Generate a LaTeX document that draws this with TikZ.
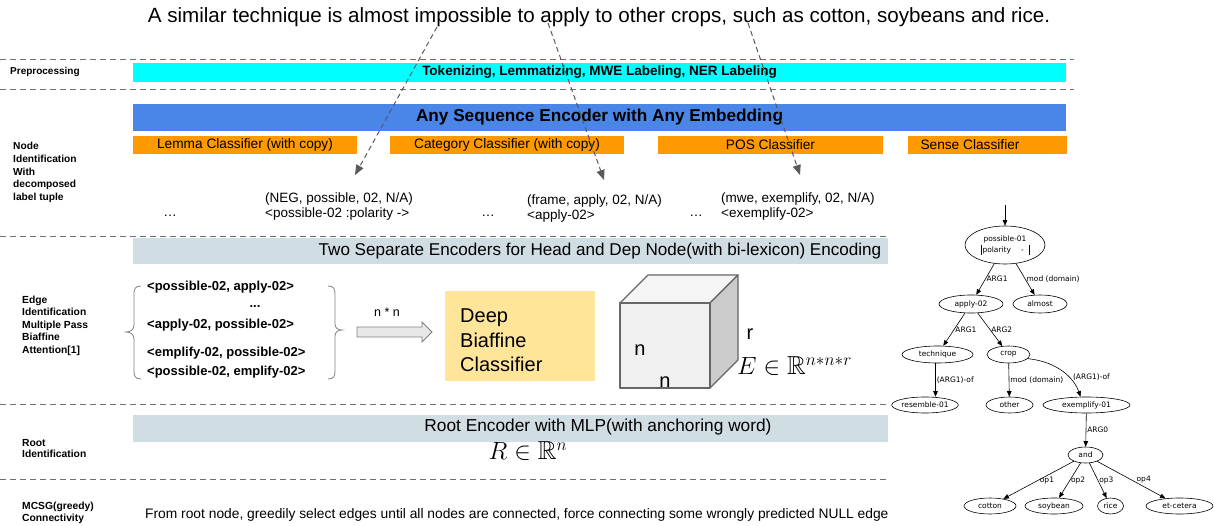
\documentclass[tikz,border=0pt]{standalone}
\usepackage{amssymb}
\usepackage{fontspec}
\setmainfont{Liberation Sans}
\newfontfamily\treefont{DejaVu Sans}
\usetikzlibrary{arrows.meta,shapes.geometric}
\definecolor{cyanbar}{HTML}{00FFFF}
\definecolor{bluebar}{HTML}{4A86E8}
\definecolor{orangebar}{HTML}{FF9900}
\definecolor{graybar}{HTML}{D0DDE3}
\definecolor{yellowbox}{HTML}{FFE599}
\definecolor{sepgray}{HTML}{707070}
\definecolor{ptrgray}{HTML}{5A5A5A}
\definecolor{cubeedge}{HTML}{666666}
\newcommand{\myfs}[1]{\fontsize{#1}{#1}\selectfont}
\newcommand{\myfsb}[2]{\fontsize{#1}{#2}\selectfont}
\begin{document}
\begin{tikzpicture}[x=1pt,y=-1pt,
  sepline/.style={draw=sepgray, line width=1pt, dash pattern=on 5.5pt off 4.5pt},
  bar/.style={anchor=north west, inner sep=0pt, outer sep=0pt},
  lbl/.style={anchor=west, align=left, inner sep=0pt},
  txt/.style={inner sep=0pt},
  ptr/.style={draw=ptrgray, line width=1pt, dash pattern=on 5pt off 3.5pt, -{Triangle[length=10pt,width=8pt]}},
  amr/.style={ellipse, draw=black, line width=0.6pt, inner sep=0pt, minimum height=17pt, font=\treefont\myfs{7.5}},
  amredge/.style={draw=black, line width=0.6pt, -{Triangle[length=5.5pt,width=4.5pt]}},
  amrlbl/.style={font=\treefont\myfs{7.5}, inner sep=1pt, right},
  brace/.style={draw=gray, line width=0.8pt},
  cube/.style={draw=cubeedge, line width=1.2pt, line join=round},
]
\useasboundingbox[fill=white] (0,0) rectangle (1214,526);

% title sentence
\node[txt, font=\myfs{20.6}] (title) at (599,17) {A similar technique is almost impossible to apply to other crops, such as cotton, soybeans and rice.};

% separators
\draw[sepline] (0,60) -- (1074,60);
\draw[sepline] (0,90) -- (1074,90);
\draw[sepline] (0,237) -- (887,237);
\draw[sepline] (0,404) -- (887,404);
\draw[sepline] (0,479) -- (887,479);

% left labels
\node[lbl, font=\myfs{10}\bfseries] (lprep) at (10,72) {Preprocessing};
\node[lbl, font=\myfsb{10.2}{12.75}\bfseries] (lnode) at (13,172.5) {Node\\Identification\\With\\decomposed\\label tuple};
\node[lbl, font=\myfsb{10.3}{12.5}\bfseries] (ledge) at (22,325.5) {Edge\\Identification\\Multiple Pass\\Biaffine\\Attention[1]};
\node[lbl, font=\myfsb{10.3}{11.5}\bfseries] (lroot) at (22,448.5) {Root\\Identification};
\node[lbl, font=\myfsb{10.3}{12}\bfseries] (lmcsg) at (22,513) {MCSG(greedy)\\Connectivity};

% bars
\node[bar, fill=cyanbar, minimum width=933pt, minimum height=19pt, font=\myfs{13.5}\bfseries] (prep) at (133,63) {Tokenizing, Lemmatizing, MWE Labeling, NER Labeling};
\node[bar, fill=bluebar, minimum width=933pt, minimum height=27pt, font=\myfs{17.2}\bfseries] (enc) at (133,104) {Any Sequence Encoder with Any Embedding};
\node[bar, fill=orangebar, minimum width=224pt, minimum height=18pt, font=\myfs{13.7}] (lemma) at (133,136) {Lemma Classifier (with copy)};
\node[bar, fill=orangebar, minimum width=234pt, minimum height=18pt, font=\myfs{13.7}] (cat) at (390,136) {Category Classifier (with copy)};
\node[bar, fill=orangebar, minimum width=225pt, minimum height=18pt, font=\myfs{13.7}] (pos) at (658,136) {POS Classifier};
\node[bar, fill=orangebar, minimum width=159pt, minimum height=18pt] (sense) at (908,136) {};
\node[txt, font=\myfs{13.7}] (sensetxt) at (970,145) {Sense Classifier};

% tuples
\node[txt, font=\myfs{13.5}] (dots1) at (170,216) {\dots};
\node[txt, anchor=west, align=left, font=\myfsb{13.5}{15.5}] (t1) at (265,206.5) {(NEG, possible, 02, N/A)\\<possible-02 :polarity ->};
\node[txt, font=\myfs{13.5}] (dots2) at (488,216) {\dots};
\node[txt, anchor=west, align=left, font=\myfsb{13.5}{15.5}] (t2) at (527,208.5) {(frame, apply, 02, N/A)\\<apply-02>};
\node[txt, font=\myfs{13.5}] (dots3) at (696,216) {\dots};
\node[txt, anchor=west, align=left, font=\myfsb{13.5}{15.5}] (t3) at (721,206.5) {(mwe, exemplify, 02, N/A)\\<exemplify-02>};

% pointers from the sentence
\coordinate (w1) at (437,27);
\coordinate (a1) at (355,175);
\coordinate (w2) at (548,23);
\coordinate (a2) at (604,180);
\coordinate (w3) at (748,23);
\coordinate (a3) at (800,175);
\draw[ptr] (w1) -- (a1);
\draw[ptr] (w2) -- (a2);
\draw[ptr] (w3) -- (a3);

% edge identification
\node[bar, fill=graybar, minimum width=755pt, minimum height=26pt] (twoenc) at (133,238) {};
\node[txt, font=\myfs{17.1}] (twoenctxt) at (600,251) {Two Separate Encoders for Head and Dep Node(with bi-lexicon) Encoding};

\node[txt, anchor=west, font=\myfs{13}\bfseries] (pr1) at (147,287) {<possible-02, apply-02>};
\node[txt, font=\myfs{13}\bfseries] (prdots) at (255,307) {...};
\node[txt, anchor=west, font=\myfs{13}\bfseries] (pr2) at (147,325) {<apply-02, possible-02>};
\node[txt, anchor=west, font=\myfs{13}\bfseries] (pr3) at (147,353) {<emplify-02, possible-02>};
\node[txt, anchor=west, font=\myfs{13}\bfseries] (pr4) at (147,372) {<possible-02, emplify-02>};

\draw[brace] (141,286) .. controls (135,286) and (134,289) .. (134,294) -- (134,325) .. controls (134,330) and (130,332) .. (126,332) .. controls (130,332) and (134,334) .. (134,339) -- (134,371) .. controls (134,376) and (135,379) .. (141,379);
\draw[brace] (328,286) .. controls (334,286) and (335,289) .. (335,294) -- (335,324) .. controls (335,328) and (338,330) .. (342,330) .. controls (338,330) and (335,332) .. (335,336) -- (335,371) .. controls (335,376) and (334,379) .. (328,379);

\node[txt, font=\myfs{12.5}] (nn) at (387,312) {n * n};
\draw[draw=gray, line width=0.9pt, fill=gray!18] (357,327) -- (422,327) -- (422,322) -- (432,332) -- (422,342) -- (422,337) -- (357,337) -- cycle;

\node[bar, fill=yellowbox, minimum width=150pt, minimum height=90pt] (biaf) at (445,291) {};
\node[txt, anchor=west, align=left, font=\myfsb{20}{24.5}] (biaftxt) at (460,340.5) {Deep\\Biaffine\\Classifier};

% cube
\fill[gray!12] (620,303) rectangle (710,388);
\filldraw[cube, fill=gray!8] (620,303) -- (648,275) -- (738,275) -- (710,303) -- cycle;
\filldraw[cube, fill=gray!40] (710,303) -- (738,275) -- (738,360) -- (710,388) -- cycle;
\draw[cube] (620,303) rectangle (710,388);
\node[txt, font=\myfs{20}] (cn1) at (640,350) {n};
\node[txt, font=\myfs{20}] (cn2) at (665,382) {n};
\node[txt, font=\myfs{20}] (cr) at (750,334) {r};
\node[txt, anchor=west, font=\myfs{26}] (emath) at (737,366) {$E\in\mathbb{R}^{n*n*r}$};

% root identification
\node[bar, fill=graybar, minimum width=755pt, minimum height=27pt] (rootenc) at (133,415) {};
\node[txt, font=\myfs{17.3}] (rootenctxt) at (598,427) {Root Encoder with MLP(with anchoring word)};
\node[txt, font=\myfs{26}] (rmath) at (528,451) {$R\in\mathbb{R}^{n}$};

% MCSG
\node[txt, anchor=west, font=\myfs{13.8}] (mcsg) at (145,515) {From root node, greedily select edges until all nodes are connected, force connecting some wrongly predicted NULL edge};

% AMR tree
\node[amr, minimum width=80pt, minimum height=38pt, align=center, font=\treefont\myfsb{7.5}{11}] (p01) at (1005,245) {possible-01\\\rule[-2.5pt]{0.5pt}{10pt}\,polarity\hspace{10pt}-\hspace{5pt}\rule[-2.5pt]{0.5pt}{10pt}};
\node[amr, minimum width=64pt, minimum height=18pt] (apply) at (971,304) {apply-02};
\node[amr, minimum width=54pt, minimum height=18pt] (almost) at (1040,304) {almost};
\node[amr, minimum width=71pt] (technique) at (937.5,354.5) {technique};
\node[amr, minimum width=43pt] (crop) at (1008.5,354.5) {crop};
\node[amr, minimum width=66pt, minimum height=16pt] (resemble) at (925,405) {resemble-01};
\node[amr, minimum width=47pt, minimum height=16pt] (other) at (1009.5,405) {other};
\node[amr, minimum width=87pt, minimum height=16pt] (exemplify) at (1086.5,405) {exemplify-01};
\node[amr, minimum width=35pt, minimum height=16pt] (and) at (1085.5,455) {and};
\node[amr, minimum width=52pt, minimum height=16pt] (cotton) at (990,506) {cotton};
\node[amr, minimum width=58pt, minimum height=16pt] (soybean) at (1054,506) {soybean};
\node[amr, minimum width=26pt, minimum height=16pt] (rice) at (1110.5,506) {rice};
\node[amr, minimum width=67pt, minimum height=16pt] (etcetera) at (1179.5,506) {et-cetera};

\coordinate (rootin) at (1005,205);
\draw[amredge] (rootin) -- (p01);
\draw[amredge] (p01) -- node[amrlbl] {ARG1} (apply);
\draw[amredge] (p01) -- node[amrlbl] {mod (domain)} (almost);
\draw[amredge] (apply) -- node[amrlbl] {ARG1} (technique);
\draw[amredge] (apply) -- node[amrlbl] {ARG2} (crop);
\draw[amredge] ([xshift=-2pt]technique.south) -- node[amrlbl] {(ARG1)-of} ([xshift=-2pt]technique.south |- resemble.north);
\draw[amredge] (crop) -- node[amrlbl] {mod (domain)} (other);
\draw[amredge] (crop.-12) .. controls (1058,362) and (1074,378) .. node[amrlbl, pos=0.62, xshift=3pt] {(ARG1)-of} ([xshift=-6pt]exemplify.north);
\draw[amredge] (exemplify) -- node[amrlbl] {ARG0} (and);
\draw[amredge] (and) -- node[amrlbl, pos=0.5] {op1} (cotton);
\draw[amredge] (and) -- node[amrlbl, pos=0.5] {op2} (soybean);
\draw[amredge] (and) -- node[amrlbl, pos=0.5] {op3} (rice);
\draw[amredge] (and) -- node[amrlbl, pos=0.5, xshift=4pt] {op4} (etcetera);
\end{tikzpicture}
\end{document}
